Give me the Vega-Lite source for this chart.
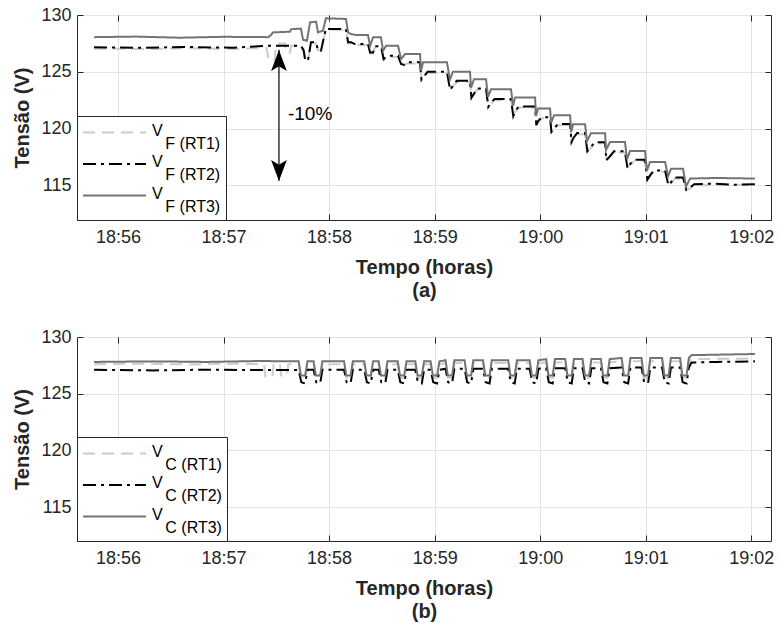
{
"$schema": "https://vega.github.io/schema/vega-lite/v6.json",
"padding": {"left": 12, "top": 5, "right": 6, "bottom": 5},
"background": "white",
"config": {
 "font": "Liberation Sans",
 "view": {"stroke": "#262626", "strokeWidth": 1},
 "axis": {"domain": false, "gridColor": "#e3e3e3", "gridWidth": 1, "tickColor": "#262626", "tickSize": -6, "tickWidth": 1, "labelFont": "Liberation Sans", "labelFontSize": 18, "labelColor": "#262626", "titleFont": "Liberation Sans", "titleFontSize": 20, "titleFontWeight": "bold", "titleColor": "#262626"},
 "legend": {"symbolType": "M-1,0L5,0", "symbolSize": 441, "symbolStrokeWidth": 2, "labelFont": "Liberation Sans", "labelFontSize": 16, "labelColor": "#000000", "fillColor": "#ffffff", "strokeColor": "#262626", "padding": 5, "rowPadding": 0.5, "labelOffset": 47, "labelLimit": 300}
},
"datasets": {
 "top": [
  {"k":"RT1","t":46.4,"v":127.05},{"k":"RT1","t":75,"v":127.0},{"k":"RT1","t":100,"v":127.08},{"k":"RT1","t":125,"v":127.0},{"k":"RT1","t":144.5,"v":127.1},{"k":"RT1","t":145.3,"v":126.4},{"k":"RT1","t":146.0,"v":126.0},{"k":"RT1","t":149.0,"v":125.97},{"k":"RT1","t":149.5,"v":126.8},{"k":"RT1","t":150.5,"v":127.5},{"k":"RT1","t":155.0,"v":127.5},{"k":"RT1","t":155.5,"v":126.7},{"k":"RT1","t":157.8,"v":126.7},{"k":"RT1","t":158.5,"v":127.3},{"k":"RT1","t":164.0,"v":127.3},{"k":"RT1","t":165.5,"v":126.9},{"k":"RT1","t":166.5,"v":126.0},{"k":"RT1","t":168.0,"v":126.0},{"k":"RT1","t":169.7,"v":127.5},{"k":"RT1","t":172.6,"v":127.5},{"k":"RT1","t":173.7,"v":126.9},{"k":"RT1","t":175.4,"v":126.9},{"k":"RT1","t":178.2,"v":128.7},{"k":"RT1","t":179.4,"v":128.7},{"k":"RT1","t":189.6,"v":128.7},{"k":"RT1","t":190.8,"v":127.5},{"k":"RT1","t":192.5,"v":127.5},{"k":"RT1","t":194.7,"v":127.35},{"k":"RT1","t":202.1,"v":127.35},{"k":"RT1","t":203.3,"v":126.6},{"k":"RT1","t":205.0,"v":126.6},{"k":"RT1","t":206.1,"v":127.15},{"k":"RT1","t":209.5,"v":127.15},{"k":"RT1","t":211.0,"v":126.0},{"k":"RT1","t":213.5,"v":126.3},{"k":"RT1","t":219.2,"v":126.3},{"k":"RT1","t":220.9,"v":125.6},{"k":"RT1","t":222.5,"v":125.55},{"k":"RT1","t":224.0,"v":125.73},{"k":"RT1","t":231.7,"v":125.73},{"k":"RT1","t":232.5,"v":124.4},{"k":"RT1","t":234.0,"v":124.5},{"k":"RT1","t":236.0,"v":124.9},{"k":"RT1","t":247.0,"v":124.9},{"k":"RT1","t":248.8,"v":123.5},{"k":"RT1","t":250.5,"v":123.7},{"k":"RT1","t":252.5,"v":124.1},{"k":"RT1","t":260.1,"v":124.1},{"k":"RT1","t":260.9,"v":122.8},{"k":"RT1","t":262.5,"v":123.0},{"k":"RT1","t":264.0,"v":123.43},{"k":"RT1","t":269.2,"v":123.43},{"k":"RT1","t":270.5,"v":122.0},{"k":"RT1","t":272.2,"v":122.2},{"k":"RT1","t":274.0,"v":122.5},{"k":"RT1","t":283.4,"v":122.5},{"k":"RT1","t":284.7,"v":121.2},{"k":"RT1","t":286.0,"v":121.5},{"k":"RT1","t":288.0,"v":121.85},{"k":"RT1","t":297.1,"v":121.85},{"k":"RT1","t":297.8,"v":120.4},{"k":"RT1","t":299.0,"v":120.6},{"k":"RT1","t":301.0,"v":120.9},{"k":"RT1","t":305.6,"v":120.9},{"k":"RT1","t":306.4,"v":119.8},{"k":"RT1","t":308.0,"v":119.9},{"k":"RT1","t":310.0,"v":120.3},{"k":"RT1","t":317.0,"v":120.3},{"k":"RT1","t":317.8,"v":118.9},{"k":"RT1","t":319.0,"v":119.1},{"k":"RT1","t":321.0,"v":119.5},{"k":"RT1","t":325.5,"v":119.5},{"k":"RT1","t":326.8,"v":118.1},{"k":"RT1","t":329.0,"v":118.3},{"k":"RT1","t":331.0,"v":118.7},{"k":"RT1","t":336.9,"v":118.7},{"k":"RT1","t":337.6,"v":117.3},{"k":"RT1","t":339.8,"v":117.5},{"k":"RT1","t":342.0,"v":117.9},{"k":"RT1","t":348.2,"v":117.9},{"k":"RT1","t":349.6,"v":116.6},{"k":"RT1","t":351.2,"v":116.8},{"k":"RT1","t":353.5,"v":117.15},{"k":"RT1","t":359.6,"v":117.15},{"k":"RT1","t":360.9,"v":115.6},{"k":"RT1","t":362.5,"v":115.8},{"k":"RT1","t":364.5,"v":116.2},{"k":"RT1","t":371.0,"v":116.2},{"k":"RT1","t":372.9,"v":115.1},{"k":"RT1","t":374.5,"v":115.2},{"k":"RT1","t":376.5,"v":115.6},{"k":"RT1","t":381.2,"v":115.6},{"k":"RT1","t":383.0,"v":114.7},{"k":"RT1","t":385.3,"v":114.7},{"k":"RT1","t":387.5,"v":115.0},{"k":"RT1","t":400,"v":115.0},{"k":"RT1","t":410,"v":115.05},{"k":"RT1","t":422.1,"v":115.0},
  {"k":"RT2","t":46.4,"v":127.15},{"k":"RT2","t":75,"v":127.12},{"k":"RT2","t":100,"v":127.18},{"k":"RT2","t":125,"v":127.12},{"k":"RT2","t":145.3,"v":127.29},{"k":"RT2","t":164.0,"v":127.29},{"k":"RT2","t":165.5,"v":126.9},{"k":"RT2","t":166.5,"v":125.97},{"k":"RT2","t":168.0,"v":126.0},{"k":"RT2","t":169.7,"v":127.6},{"k":"RT2","t":172.6,"v":127.6},{"k":"RT2","t":173.7,"v":126.85},{"k":"RT2","t":175.4,"v":126.85},{"k":"RT2","t":178.2,"v":128.83},{"k":"RT2","t":179.4,"v":128.76},{"k":"RT2","t":189.6,"v":128.76},{"k":"RT2","t":190.8,"v":127.6},{"k":"RT2","t":192.5,"v":127.6},{"k":"RT2","t":194.7,"v":127.44},{"k":"RT2","t":202.1,"v":127.44},{"k":"RT2","t":203.3,"v":126.7},{"k":"RT2","t":205.0,"v":126.7},{"k":"RT2","t":206.1,"v":127.24},{"k":"RT2","t":209.5,"v":127.24},{"k":"RT2","t":211.0,"v":126.12},{"k":"RT2","t":213.5,"v":126.41},{"k":"RT2","t":219.2,"v":126.41},{"k":"RT2","t":220.9,"v":125.68},{"k":"RT2","t":222.5,"v":125.6},{"k":"RT2","t":224.0,"v":125.83},{"k":"RT2","t":231.7,"v":125.83},{"k":"RT2","t":232.5,"v":124.3},{"k":"RT2","t":234.0,"v":124.6},{"k":"RT2","t":236.0,"v":125.0},{"k":"RT2","t":247.0,"v":125.0},{"k":"RT2","t":248.8,"v":123.4},{"k":"RT2","t":250.5,"v":123.8},{"k":"RT2","t":252.5,"v":124.2},{"k":"RT2","t":260.1,"v":124.2},{"k":"RT2","t":260.9,"v":122.7},{"k":"RT2","t":262.5,"v":123.1},{"k":"RT2","t":264.0,"v":123.53},{"k":"RT2","t":269.2,"v":123.53},{"k":"RT2","t":270.5,"v":121.9},{"k":"RT2","t":272.2,"v":122.3},{"k":"RT2","t":274.0,"v":122.6},{"k":"RT2","t":283.4,"v":122.6},{"k":"RT2","t":284.7,"v":121.1},{"k":"RT2","t":286.0,"v":121.6},{"k":"RT2","t":288.0,"v":121.95},{"k":"RT2","t":297.1,"v":121.95},{"k":"RT2","t":297.8,"v":120.3},{"k":"RT2","t":299.0,"v":120.7},{"k":"RT2","t":301.0,"v":121.0},{"k":"RT2","t":305.6,"v":121.0},{"k":"RT2","t":306.4,"v":119.7},{"k":"RT2","t":308.0,"v":120.0},{"k":"RT2","t":310.0,"v":120.4},{"k":"RT2","t":317.0,"v":120.4},{"k":"RT2","t":317.8,"v":118.8},{"k":"RT2","t":319.0,"v":119.2},{"k":"RT2","t":321.0,"v":119.6},{"k":"RT2","t":325.5,"v":119.6},{"k":"RT2","t":326.8,"v":118.0},{"k":"RT2","t":329.0,"v":118.4},{"k":"RT2","t":331.0,"v":118.8},{"k":"RT2","t":336.9,"v":118.8},{"k":"RT2","t":337.6,"v":117.2},{"k":"RT2","t":339.8,"v":117.6},{"k":"RT2","t":342.0,"v":118.0},{"k":"RT2","t":348.2,"v":118.0},{"k":"RT2","t":349.6,"v":116.5},{"k":"RT2","t":351.2,"v":116.9},{"k":"RT2","t":353.5,"v":117.25},{"k":"RT2","t":359.6,"v":117.25},{"k":"RT2","t":360.9,"v":115.5},{"k":"RT2","t":362.5,"v":115.9},{"k":"RT2","t":364.5,"v":116.3},{"k":"RT2","t":371.0,"v":116.3},{"k":"RT2","t":372.9,"v":115.0},{"k":"RT2","t":374.5,"v":115.3},{"k":"RT2","t":376.5,"v":115.7},{"k":"RT2","t":381.2,"v":115.7},{"k":"RT2","t":383.0,"v":114.6},{"k":"RT2","t":385.3,"v":114.8},{"k":"RT2","t":387.5,"v":115.1},{"k":"RT2","t":400,"v":115.15},{"k":"RT2","t":410,"v":115.05},{"k":"RT2","t":422.1,"v":115.1},
  {"k":"RT3","t":46.4,"v":128.05},{"k":"RT3","t":70,"v":128.1},{"k":"RT3","t":95,"v":128.0},{"k":"RT3","t":120,"v":128.08},{"k":"RT3","t":145.3,"v":128.05},{"k":"RT3","t":147.0,"v":128.24},{"k":"RT3","t":148.1,"v":128.47},{"k":"RT3","t":157.8,"v":128.53},{"k":"RT3","t":158.4,"v":128.75},{"k":"RT3","t":164.0,"v":128.8},{"k":"RT3","t":165.2,"v":127.82},{"k":"RT3","t":167.4,"v":127.73},{"k":"RT3","t":169.2,"v":129.36},{"k":"RT3","t":172.6,"v":129.41},{"k":"RT3","t":173.7,"v":128.47},{"k":"RT3","t":176.5,"v":128.62},{"k":"RT3","t":178.2,"v":129.71},{"k":"RT3","t":189.6,"v":129.65},{"k":"RT3","t":190.8,"v":128.47},{"k":"RT3","t":192.5,"v":128.32},{"k":"RT3","t":195.3,"v":128.24},{"k":"RT3","t":202.1,"v":128.24},{"k":"RT3","t":203.3,"v":127.29},{"k":"RT3","t":205.0,"v":128.03},{"k":"RT3","t":209.5,"v":128.03},{"k":"RT3","t":210.7,"v":126.85},{"k":"RT3","t":212.4,"v":127.29},{"k":"RT3","t":219.2,"v":127.29},{"k":"RT3","t":220.9,"v":126.12},{"k":"RT3","t":223.2,"v":126.56},{"k":"RT3","t":231.7,"v":126.56},{"k":"RT3","t":232.3,"v":125.1},{"k":"RT3","t":233.4,"v":125.83},{"k":"RT3","t":247.0,"v":125.83},{"k":"RT3","t":248.7,"v":124.3},{"k":"RT3","t":250.4,"v":125.0},{"k":"RT3","t":260.1,"v":125.0},{"k":"RT3","t":260.7,"v":123.6},{"k":"RT3","t":262.4,"v":124.35},{"k":"RT3","t":269.2,"v":124.35},{"k":"RT3","t":270.3,"v":122.8},{"k":"RT3","t":272.1,"v":123.47},{"k":"RT3","t":283.4,"v":123.47},{"k":"RT3","t":284.6,"v":122.0},{"k":"RT3","t":285.7,"v":122.74},{"k":"RT3","t":297.1,"v":122.74},{"k":"RT3","t":297.6,"v":121.1},{"k":"RT3","t":298.8,"v":121.77},{"k":"RT3","t":305.6,"v":121.77},{"k":"RT3","t":306.2,"v":120.5},{"k":"RT3","t":307.9,"v":121.18},{"k":"RT3","t":317.0,"v":121.18},{"k":"RT3","t":317.6,"v":119.7},{"k":"RT3","t":318.7,"v":120.38},{"k":"RT3","t":325.5,"v":120.38},{"k":"RT3","t":326.6,"v":118.9},{"k":"RT3","t":328.9,"v":119.59},{"k":"RT3","t":336.9,"v":119.59},{"k":"RT3","t":337.4,"v":118.1},{"k":"RT3","t":339.7,"v":118.82},{"k":"RT3","t":348.2,"v":118.82},{"k":"RT3","t":349.4,"v":117.3},{"k":"RT3","t":351.1,"v":118.03},{"k":"RT3","t":359.6,"v":118.03},{"k":"RT3","t":360.7,"v":116.3},{"k":"RT3","t":362.4,"v":117.06},{"k":"RT3","t":371.0,"v":117.06},{"k":"RT3","t":372.7,"v":115.8},{"k":"RT3","t":374.4,"v":116.47},{"k":"RT3","t":381.2,"v":116.47},{"k":"RT3","t":382.9,"v":114.9},{"k":"RT3","t":385.2,"v":115.6},{"k":"RT3","t":400,"v":115.65},{"k":"RT3","t":422.1,"v":115.6}
 ],
 "bot": [
  {"k":"RT1","t":46.4,"v":127.6},{"k":"RT1","t":70,"v":127.65},{"k":"RT1","t":100,"v":127.58},{"k":"RT1","t":125,"v":127.65},{"k":"RT1","t":143.0,"v":127.6},{"k":"RT1","t":143.8,"v":126.5},{"k":"RT1","t":147.8,"v":126.5},{"k":"RT1","t":148.5,"v":127.6},{"k":"RT1","t":152.0,"v":127.62},{"k":"RT1","t":152.8,"v":126.6},{"k":"RT1","t":156.0,"v":126.6},{"k":"RT1","t":156.8,"v":127.6},
  {"k":"RT1","t":162.7,"v":127.6},{"k":"RT1","t":164.0,"v":126.4},{"k":"RT1","t":166.4,"v":126.4},{"k":"RT1","t":167.7,"v":127.6},
  {"k":"RT1","t":171.2,"v":127.6},{"k":"RT1","t":172.5,"v":126.4},{"k":"RT1","t":174.9,"v":126.4},{"k":"RT1","t":176.2,"v":127.6},
  {"k":"RT1","t":188.5,"v":127.6},{"k":"RT1","t":189.8,"v":126.4},{"k":"RT1","t":192.2,"v":126.4},{"k":"RT1","t":193.5,"v":127.6},
  {"k":"RT1","t":200.0,"v":127.6},{"k":"RT1","t":201.3,"v":126.4},{"k":"RT1","t":203.7,"v":126.4},{"k":"RT1","t":205.0,"v":127.6},
  {"k":"RT1","t":208.2,"v":127.6},{"k":"RT1","t":209.5,"v":126.4},{"k":"RT1","t":211.9,"v":126.4},{"k":"RT1","t":213.2,"v":127.6},
  {"k":"RT1","t":219.0,"v":127.6},{"k":"RT1","t":220.3,"v":126.4},{"k":"RT1","t":222.7,"v":126.4},{"k":"RT1","t":224.0,"v":127.6},
  {"k":"RT1","t":229.0,"v":127.6},{"k":"RT1","t":230.3,"v":126.4},{"k":"RT1","t":232.7,"v":126.4},{"k":"RT1","t":234.0,"v":127.6},
  {"k":"RT1","t":237.7,"v":127.6},{"k":"RT1","t":239.0,"v":126.4},{"k":"RT1","t":241.4,"v":126.4},{"k":"RT1","t":242.7,"v":127.6},
  {"k":"RT1","t":246.2,"v":127.7},{"k":"RT1","t":247.5,"v":126.4},{"k":"RT1","t":249.9,"v":126.4},{"k":"RT1","t":251.2,"v":127.7},
  {"k":"RT1","t":257.0,"v":127.7},{"k":"RT1","t":258.3,"v":126.4},{"k":"RT1","t":260.7,"v":126.4},{"k":"RT1","t":262.0,"v":127.7},
  {"k":"RT1","t":267.5,"v":127.7},{"k":"RT1","t":268.8,"v":126.4},{"k":"RT1","t":271.2,"v":126.4},{"k":"RT1","t":272.5,"v":127.7},
  {"k":"RT1","t":281.8,"v":127.7},{"k":"RT1","t":283.1,"v":126.4},{"k":"RT1","t":285.5,"v":126.4},{"k":"RT1","t":286.8,"v":127.7},
  {"k":"RT1","t":294.0,"v":127.7},{"k":"RT1","t":295.3,"v":126.4},{"k":"RT1","t":297.7,"v":126.4},{"k":"RT1","t":299.0,"v":127.7},
  {"k":"RT1","t":303.4,"v":127.75},{"k":"RT1","t":304.7,"v":126.4},{"k":"RT1","t":307.1,"v":126.4},{"k":"RT1","t":308.4,"v":127.75},
  {"k":"RT1","t":314.2,"v":127.75},{"k":"RT1","t":315.5,"v":126.4},{"k":"RT1","t":317.9,"v":126.4},{"k":"RT1","t":319.2,"v":127.75},
  {"k":"RT1","t":324.1,"v":127.75},{"k":"RT1","t":325.4,"v":126.4},{"k":"RT1","t":327.8,"v":126.4},{"k":"RT1","t":329.1,"v":127.75},
  {"k":"RT1","t":334.5,"v":127.75},{"k":"RT1","t":335.8,"v":126.4},{"k":"RT1","t":338.2,"v":126.4},{"k":"RT1","t":339.5,"v":127.75},
  {"k":"RT1","t":346.3,"v":127.85},{"k":"RT1","t":347.6,"v":126.4},{"k":"RT1","t":350.0,"v":126.4},{"k":"RT1","t":351.3,"v":127.85},
  {"k":"RT1","t":357.6,"v":127.85},{"k":"RT1","t":358.9,"v":126.4},{"k":"RT1","t":361.3,"v":126.4},{"k":"RT1","t":362.6,"v":127.85},
  {"k":"RT1","t":369.3,"v":127.85},{"k":"RT1","t":370.6,"v":126.4},{"k":"RT1","t":373.0,"v":126.4},{"k":"RT1","t":374.3,"v":127.85},
  {"k":"RT1","t":379.5,"v":127.85},{"k":"RT1","t":380.8,"v":126.4},{"k":"RT1","t":383.2,"v":126.4},{"k":"RT1","t":384.5,"v":127.85},
  {"k":"RT1","t":386,"v":128.05},{"k":"RT1","t":422.1,"v":128.1},
  {"k":"RT2","t":46.4,"v":127.1},{"k":"RT2","t":80,"v":127.05},{"k":"RT2","t":110,"v":127.12},{"k":"RT2","t":140,"v":127.08},
  {"k":"RT2","t":162.7,"v":127.1},{"k":"RT2","t":164.2,"v":126.0},{"k":"RT2","t":166.4,"v":125.9},{"k":"RT2","t":167.7,"v":127.1},
  {"k":"RT2","t":171.2,"v":127.1},{"k":"RT2","t":172.7,"v":126.0},{"k":"RT2","t":174.9,"v":125.9},{"k":"RT2","t":176.2,"v":127.1},
  {"k":"RT2","t":188.5,"v":127.1},{"k":"RT2","t":190.0,"v":126.0},{"k":"RT2","t":192.2,"v":125.9},{"k":"RT2","t":193.5,"v":127.1},
  {"k":"RT2","t":200.0,"v":127.1},{"k":"RT2","t":201.5,"v":126.0},{"k":"RT2","t":203.7,"v":125.9},{"k":"RT2","t":205.0,"v":127.1},
  {"k":"RT2","t":208.2,"v":127.1},{"k":"RT2","t":209.7,"v":126.0},{"k":"RT2","t":211.9,"v":125.9},{"k":"RT2","t":213.2,"v":127.1},
  {"k":"RT2","t":219.0,"v":127.1},{"k":"RT2","t":220.5,"v":126.0},{"k":"RT2","t":222.7,"v":125.9},{"k":"RT2","t":224.0,"v":127.1},
  {"k":"RT2","t":229.0,"v":127.1},{"k":"RT2","t":230.5,"v":126.0},{"k":"RT2","t":232.7,"v":125.9},{"k":"RT2","t":234.0,"v":127.1},
  {"k":"RT2","t":237.7,"v":127.1},{"k":"RT2","t":239.2,"v":126.0},{"k":"RT2","t":241.4,"v":125.9},{"k":"RT2","t":242.7,"v":127.1},
  {"k":"RT2","t":246.2,"v":127.2},{"k":"RT2","t":247.7,"v":126.0},{"k":"RT2","t":249.9,"v":125.9},{"k":"RT2","t":251.2,"v":127.2},
  {"k":"RT2","t":257.0,"v":127.2},{"k":"RT2","t":258.5,"v":126.0},{"k":"RT2","t":260.7,"v":125.9},{"k":"RT2","t":262.0,"v":127.2},
  {"k":"RT2","t":267.5,"v":127.2},{"k":"RT2","t":269.0,"v":126.0},{"k":"RT2","t":271.2,"v":125.9},{"k":"RT2","t":272.5,"v":127.2},
  {"k":"RT2","t":281.8,"v":127.2},{"k":"RT2","t":283.3,"v":126.0},{"k":"RT2","t":285.5,"v":125.9},{"k":"RT2","t":286.8,"v":127.2},
  {"k":"RT2","t":294.0,"v":127.2},{"k":"RT2","t":295.5,"v":126.0},{"k":"RT2","t":297.7,"v":125.9},{"k":"RT2","t":299.0,"v":127.2},
  {"k":"RT2","t":303.4,"v":127.25},{"k":"RT2","t":304.9,"v":126.0},{"k":"RT2","t":307.1,"v":125.9},{"k":"RT2","t":308.4,"v":127.25},
  {"k":"RT2","t":314.2,"v":127.25},{"k":"RT2","t":315.7,"v":126.0},{"k":"RT2","t":317.9,"v":125.9},{"k":"RT2","t":319.2,"v":127.25},
  {"k":"RT2","t":324.1,"v":127.25},{"k":"RT2","t":325.6,"v":126.0},{"k":"RT2","t":327.8,"v":125.9},{"k":"RT2","t":329.1,"v":127.25},
  {"k":"RT2","t":334.5,"v":127.25},{"k":"RT2","t":336.0,"v":126.0},{"k":"RT2","t":338.2,"v":125.9},{"k":"RT2","t":339.5,"v":127.25},
  {"k":"RT2","t":346.3,"v":127.3},{"k":"RT2","t":347.8,"v":126.0},{"k":"RT2","t":350.0,"v":125.9},{"k":"RT2","t":351.3,"v":127.3},
  {"k":"RT2","t":357.6,"v":127.3},{"k":"RT2","t":359.1,"v":126.0},{"k":"RT2","t":361.3,"v":125.9},{"k":"RT2","t":362.6,"v":127.3},
  {"k":"RT2","t":369.3,"v":127.3},{"k":"RT2","t":370.8,"v":126.0},{"k":"RT2","t":373.0,"v":125.9},{"k":"RT2","t":374.3,"v":127.3},
  {"k":"RT2","t":379.5,"v":127.3},{"k":"RT2","t":381.0,"v":126.0},{"k":"RT2","t":383.2,"v":125.9},{"k":"RT2","t":384.5,"v":127.3},
  {"k":"RT2","t":386,"v":127.75},{"k":"RT2","t":400,"v":127.8},{"k":"RT2","t":422.1,"v":127.85},
  {"k":"RT3","t":46.4,"v":127.8},{"k":"RT3","t":80,"v":127.85},{"k":"RT3","t":110,"v":127.8},{"k":"RT3","t":140,"v":127.88},
  {"k":"RT3","t":162.7,"v":127.85},{"k":"RT3","t":164.0,"v":126.6},{"k":"RT3","t":166.4,"v":126.6},{"k":"RT3","t":167.7,"v":127.85},
  {"k":"RT3","t":171.2,"v":127.85},{"k":"RT3","t":172.5,"v":126.6},{"k":"RT3","t":174.9,"v":126.6},{"k":"RT3","t":176.2,"v":127.85},
  {"k":"RT3","t":188.5,"v":127.85},{"k":"RT3","t":189.8,"v":126.6},{"k":"RT3","t":192.2,"v":126.6},{"k":"RT3","t":193.5,"v":127.85},
  {"k":"RT3","t":200.0,"v":127.85},{"k":"RT3","t":201.3,"v":126.6},{"k":"RT3","t":203.7,"v":126.6},{"k":"RT3","t":205.0,"v":127.85},
  {"k":"RT3","t":208.2,"v":127.85},{"k":"RT3","t":209.5,"v":126.6},{"k":"RT3","t":211.9,"v":126.6},{"k":"RT3","t":213.2,"v":127.85},
  {"k":"RT3","t":219.0,"v":127.85},{"k":"RT3","t":220.3,"v":126.6},{"k":"RT3","t":222.7,"v":126.6},{"k":"RT3","t":224.0,"v":127.85},
  {"k":"RT3","t":229.0,"v":127.85},{"k":"RT3","t":230.3,"v":126.6},{"k":"RT3","t":232.7,"v":126.6},{"k":"RT3","t":234.0,"v":127.85},
  {"k":"RT3","t":237.7,"v":127.85},{"k":"RT3","t":239.0,"v":126.6},{"k":"RT3","t":241.4,"v":126.6},{"k":"RT3","t":242.7,"v":127.85},
  {"k":"RT3","t":246.2,"v":127.95},{"k":"RT3","t":247.5,"v":126.6},{"k":"RT3","t":249.9,"v":126.6},{"k":"RT3","t":251.2,"v":127.95},
  {"k":"RT3","t":257.0,"v":127.95},{"k":"RT3","t":258.3,"v":126.6},{"k":"RT3","t":260.7,"v":126.6},{"k":"RT3","t":262.0,"v":127.95},
  {"k":"RT3","t":267.5,"v":127.95},{"k":"RT3","t":268.8,"v":126.6},{"k":"RT3","t":271.2,"v":126.6},{"k":"RT3","t":272.5,"v":127.95},
  {"k":"RT3","t":281.8,"v":127.95},{"k":"RT3","t":283.1,"v":126.6},{"k":"RT3","t":285.5,"v":126.6},{"k":"RT3","t":286.8,"v":127.95},
  {"k":"RT3","t":294.0,"v":127.95},{"k":"RT3","t":295.3,"v":126.6},{"k":"RT3","t":297.7,"v":126.6},{"k":"RT3","t":299.0,"v":127.95},
  {"k":"RT3","t":303.4,"v":128.05},{"k":"RT3","t":304.7,"v":126.6},{"k":"RT3","t":307.1,"v":126.6},{"k":"RT3","t":308.4,"v":128.05},
  {"k":"RT3","t":314.2,"v":128.05},{"k":"RT3","t":315.5,"v":126.6},{"k":"RT3","t":317.9,"v":126.6},{"k":"RT3","t":319.2,"v":128.05},
  {"k":"RT3","t":324.1,"v":128.05},{"k":"RT3","t":325.4,"v":126.6},{"k":"RT3","t":327.8,"v":126.6},{"k":"RT3","t":329.1,"v":128.05},
  {"k":"RT3","t":334.5,"v":128.05},{"k":"RT3","t":335.8,"v":126.6},{"k":"RT3","t":338.2,"v":126.6},{"k":"RT3","t":339.5,"v":128.05},
  {"k":"RT3","t":346.3,"v":128.15},{"k":"RT3","t":347.6,"v":126.6},{"k":"RT3","t":350.0,"v":126.6},{"k":"RT3","t":351.3,"v":128.15},
  {"k":"RT3","t":357.6,"v":128.15},{"k":"RT3","t":358.9,"v":126.6},{"k":"RT3","t":361.3,"v":126.6},{"k":"RT3","t":362.6,"v":128.15},
  {"k":"RT3","t":369.3,"v":128.15},{"k":"RT3","t":370.6,"v":126.6},{"k":"RT3","t":373.0,"v":126.6},{"k":"RT3","t":374.3,"v":128.15},
  {"k":"RT3","t":379.5,"v":128.15},{"k":"RT3","t":380.8,"v":126.6},{"k":"RT3","t":383.2,"v":126.6},{"k":"RT3","t":384.5,"v":128.15},
  {"k":"RT3","t":386,"v":128.4},{"k":"RT3","t":422.1,"v":128.5}
 ]
},
"resolve": {"scale": {"color": "independent", "strokeDash": "independent"}},
"spacing": 26,
"vconcat": [
 {
  "width": 694, "height": 205,
  "layer": [
   {"data": {"name": "top"}, "mark": {"type": "line", "strokeWidth": 2},
    "encoding": {
     "x": {"field": "t", "type": "quantitative", "scale": {"domain": [36.7, 431.2], "nice": false, "zero": false},
           "axis": {"orient": "bottom", "values": [60,120,180,240,300,360,420], "labelExpr": "datum.value < 300 ? '18:' + (55 + datum.value / 60) : '19:0' + (datum.value / 60 - 5)", "labelPadding": 14, "title": ["Tempo (horas)", "(a)"], "titleLineHeight": 23, "titlePadding": 11}},
     "y": {"field": "v", "type": "quantitative", "scale": {"domain": [111.95, 130], "nice": false, "zero": false},
           "axis": {"orient": "left", "values": [115,120,125,130], "labelPadding": 12, "title": "Tensão (V)", "titlePadding": 8}},
     "color": {"field": "k", "type": "nominal", "scale": {"domain": ["RT1","RT2","RT3"], "range": ["#cccccc","#000000","#737373"]},
               "legend": {"title": null, "orient": "bottom-left", "offset": 0, "labelExpr": "['V', '\\u200b\\u00a0\\u00a0\\u00a0F (' + datum.label + ')']", "encode": {"labels": {"update": {"lineHeight": {"value": 13}, "dy": {"value": -2}}}}}},
     "strokeDash": {"field": "k", "type": "nominal", "scale": {"domain": ["RT1","RT2","RT3"], "range": [[12,7],[13,5,3,5],[1,0]]},
               "legend": {"title": null, "orient": "bottom-left", "offset": 0, "labelExpr": "['V', '\\u200b\\u00a0\\u00a0\\u00a0F (' + datum.label + ')']", "encode": {"labels": {"update": {"lineHeight": {"value": 13}, "dy": {"value": -2}}}}}}
    }},
   {"data": {"values": [{"t": 151.5, "v1": 126.94, "v2": 115.4}]}, "mark": {"type": "rule", "color": "#000000", "strokeWidth": 1.2},
    "encoding": {"x": {"field": "t", "type": "quantitative", "axis": null}, "y": {"field": "v1", "type": "quantitative", "axis": null}, "y2": {"field": "v2"}}},
   {"data": {"values": [{"t": 151.5, "v": 126.0, "d": "up"}, {"t": 151.5, "v": 116.3, "d": "down"}]}, "mark": {"type": "point", "filled": true, "opacity": 1, "color": "#000000", "size": 441},
    "encoding": {"x": {"field": "t", "type": "quantitative", "axis": null}, "y": {"field": "v", "type": "quantitative", "axis": null},
     "shape": {"field": "d", "type": "nominal", "scale": {"domain": ["up","down"], "range": ["M0,-1L0.75,1L0,0.55L-0.75,1Z","M0,1L0.75,-1L0,-0.55L-0.75,-1Z"]}, "legend": null}}},
   {"data": {"values": [{"t": 156.6, "v": 121.3, "txt": "-10%"}]}, "mark": {"type": "text", "align": "left", "baseline": "middle", "fontSize": 19, "font": "Liberation Sans", "color": "#000000"},
    "encoding": {"x": {"field": "t", "type": "quantitative", "axis": null}, "y": {"field": "v", "type": "quantitative", "axis": null}, "text": {"field": "txt"}}},
   {"data": {"values": [{"t": 60, "v": 130}]}, "mark": {"type": "point", "opacity": 0},
    "encoding": {"x": {"field": "t", "type": "quantitative", "axis": {"orient": "top", "values": [60,120,180,240,300,360,420], "labels": false, "title": null, "grid": false}},
                 "y": {"field": "v", "type": "quantitative", "axis": {"orient": "right", "values": [115,120,125,130], "labels": false, "title": null, "grid": false}}}}
  ],
  "resolve": {"axis": {"x": "independent", "y": "independent"}}
 },
 {
  "width": 694, "height": 204,
  "layer": [
   {"data": {"name": "bot"}, "mark": {"type": "line", "strokeWidth": 2},
    "encoding": {
     "x": {"field": "t", "type": "quantitative", "scale": {"domain": [36.7, 431.2], "nice": false, "zero": false},
           "axis": {"orient": "bottom", "values": [60,120,180,240,300,360,420], "labelExpr": "datum.value < 300 ? '18:' + (55 + datum.value / 60) : '19:0' + (datum.value / 60 - 5)", "labelPadding": 14, "title": ["Tempo (horas)", "(b)"], "titleLineHeight": 23, "titlePadding": 11}},
     "y": {"field": "v", "type": "quantitative", "scale": {"domain": [112, 130], "nice": false, "zero": false},
           "axis": {"orient": "left", "values": [115,120,125,130], "labelPadding": 12, "title": "Tensão (V)", "titlePadding": 8}},
     "color": {"field": "k", "type": "nominal", "scale": {"domain": ["RT1","RT2","RT3"], "range": ["#cccccc","#000000","#737373"]},
               "legend": {"title": null, "orient": "bottom-left", "offset": 0, "labelExpr": "['V', '\\u200b\\u00a0\\u00a0\\u00a0C (' + datum.label + ')']", "encode": {"labels": {"update": {"lineHeight": {"value": 13}, "dy": {"value": -2}}}}}},
     "strokeDash": {"field": "k", "type": "nominal", "scale": {"domain": ["RT1","RT2","RT3"], "range": [[12,7],[13,5,3,5],[1,0]]},
               "legend": {"title": null, "orient": "bottom-left", "offset": 0, "labelExpr": "['V', '\\u200b\\u00a0\\u00a0\\u00a0C (' + datum.label + ')']", "encode": {"labels": {"update": {"lineHeight": {"value": 13}, "dy": {"value": -2}}}}}}
    }},
   {"data": {"values": [{"t": 60, "v": 130}]}, "mark": {"type": "point", "opacity": 0},
    "encoding": {"x": {"field": "t", "type": "quantitative", "axis": {"orient": "top", "values": [60,120,180,240,300,360,420], "labels": false, "title": null, "grid": false}},
                 "y": {"field": "v", "type": "quantitative", "axis": {"orient": "right", "values": [115,120,125,130], "labels": false, "title": null, "grid": false}}}}
  ],
  "resolve": {"axis": {"x": "independent", "y": "independent"}}
 }
]
}
